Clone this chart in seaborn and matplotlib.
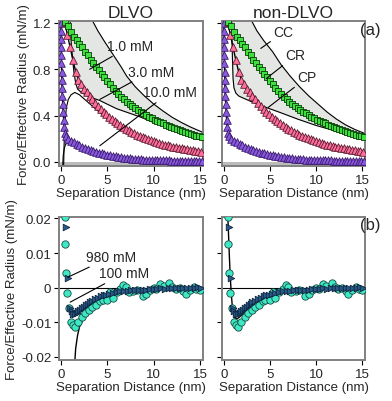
import numpy as np
import seaborn as sns
import matplotlib
matplotlib.use('Agg')
import matplotlib.pyplot as plt

# ---- top panels: force data (mN/m) ----
sep_1mM = [0.5, 0.8, 1.1, 1.4, 1.7, 2.0, 2.3, 2.6, 2.9, 3.2, 3.5, 3.8, 4.1, 4.4, 4.7, 5.0, 5.3,
           5.6, 5.9, 6.2, 6.5, 6.8, 7.1, 7.4, 7.7, 8.0, 8.3, 8.6, 8.9, 9.2, 9.5, 9.8, 10.1,
           10.4, 10.7, 11.0, 11.3, 11.6, 11.9, 12.2, 12.5, 12.8, 13.1, 13.4, 13.7, 14.0,
           14.3, 14.6, 14.9, 15.2]
force_1mM = [1.21, 1.17, 1.12, 1.08, 1.05, 1.02, 0.99, 0.95, 0.92, 0.88, 0.85, 0.82, 0.79,
             0.76, 0.73, 0.70, 0.67, 0.64, 0.61, 0.59, 0.56, 0.54, 0.52, 0.50, 0.48, 0.465,
             0.45, 0.435, 0.42, 0.405, 0.39, 0.378, 0.366, 0.355, 0.344, 0.333, 0.323,
             0.313, 0.303, 0.294, 0.285, 0.276, 0.267, 0.259, 0.251, 0.243, 0.236, 0.228,
             0.221, 0.214]

sep_3mM = [0.4, 0.7, 1.0, 1.3, 1.6, 1.9, 2.2, 2.5, 2.8, 3.1, 3.4, 3.7, 4.0, 4.3, 4.6, 4.9,
           5.2, 5.5, 5.8, 6.1, 6.4, 6.7, 7.0, 7.3, 7.6, 7.9, 8.2, 8.5, 8.8, 9.1, 9.4, 9.7,
           10.0, 10.3, 10.6, 10.9, 11.2, 11.5, 11.8, 12.1, 12.4, 12.7, 13.0, 13.3, 13.6,
           13.9, 14.2, 14.5, 14.8, 15.1]
force_3mM = [1.21, 1.10, 0.99, 0.88, 0.78, 0.71, 0.67, 0.63, 0.60, 0.57, 0.54, 0.51, 0.48,
             0.455, 0.43, 0.41, 0.39, 0.37, 0.35, 0.335, 0.318, 0.302, 0.287, 0.273, 0.26,
             0.248, 0.236, 0.225, 0.215, 0.205, 0.196, 0.187, 0.179, 0.171, 0.164, 0.157,
             0.150, 0.144, 0.138, 0.132, 0.127, 0.122, 0.117, 0.112, 0.108, 0.104, 0.100,
             0.096, 0.093, 0.090]

sep_10mM = [0.0, 0.02, 0.03, 0.04, 0.05, 0.06, 0.08, 0.1, 0.12, 0.15, 0.2, 0.25, 0.3, 0.35,
            0.45, 0.6, 0.8, 1.1, 1.4, 1.7, 2.0, 2.3, 2.6, 2.9, 3.2, 3.5, 3.8, 4.1, 4.4, 4.7,
            5.0, 5.3, 5.6, 5.9, 6.2, 6.5, 6.8, 7.1, 7.4, 7.7, 8.0, 8.3, 8.6, 8.9, 9.2, 9.5,
            9.8, 10.1, 10.4, 10.7, 11.0, 11.3, 11.6, 11.9, 12.2, 12.5, 12.8, 13.1, 13.4,
            13.7, 14.0, 14.3, 14.6, 14.9, 15.2]
force_10mM = [1.20, 1.13, 1.06, 0.99, 0.92, 0.85, 0.78, 0.71, 0.64, 0.57, 0.50, 0.43, 0.36,
              0.30, 0.25, 0.22, 0.20, 0.185, 0.17, 0.157, 0.145, 0.133, 0.123, 0.113, 0.104,
              0.096, 0.088, 0.081, 0.074, 0.068, 0.062, 0.057, 0.052, 0.048, 0.044, 0.040,
              0.037, 0.034, 0.031, 0.028, 0.026, 0.024, 0.022, 0.020, 0.018, 0.017, 0.016,
              0.015, 0.0145, 0.014, 0.0135, 0.013, 0.0125, 0.012, 0.0115, 0.011, 0.0105,
              0.010, 0.0098, 0.0095, 0.0092, 0.009, 0.0088, 0.0085, 0.0082]

# model curves, DLVO panel
dlvo_cc_x = [3.4, 4.0, 4.7, 5.6, 6.5, 7.1, 8.0, 9.0, 10.0, 11.0, 12.0, 13.0, 14.0, 15.3]
dlvo_cc_y = [1.22, 1.13, 1.04, 0.93, 0.82, 0.74, 0.65, 0.57, 0.50, 0.44, 0.385, 0.34, 0.30, 0.255]
dlvo_cp_x = [1.0, 1.1, 1.25, 1.4, 1.6, 1.8, 2.2, 3.0, 4.2, 6.0, 8.5, 10.0, 12.0, 13.0, 14.0, 15.3]
dlvo_cp_y = [1.22, 1.05, 0.90, 0.78, 0.68, 0.63, 0.60, 0.565, 0.53, 0.46, 0.39, 0.34, 0.29,
             0.27, 0.245, 0.21]
dlvo_cp3_x = [0.3, 0.35, 0.45, 0.6, 0.8, 1.1, 1.5, 2.0, 3.0, 4.0, 5.0, 7.0, 9.0, 11.0, 13.0, 15.3]
dlvo_cp3_y = [-0.04, 0.15, 0.35, 0.47, 0.54, 0.58, 0.60, 0.58, 0.51, 0.44, 0.37, 0.265, 0.19,
              0.135, 0.095, 0.065]
dlvo_cp10_x = [0.2, 0.25, 0.35, 0.5, 0.7, 1.0, 1.5, 2.0, 3.0, 4.0, 5.0, 6.5, 8.0, 10.0, 12.0, 15.3]
dlvo_cp10_y = [-0.04, 0.05, 0.11, 0.15, 0.165, 0.17, 0.16, 0.145, 0.115, 0.088, 0.066, 0.043,
               0.028, 0.016, 0.010, 0.005]

# model curves, non-DLVO panel
ndlvo_cc_x = [3.0, 3.6, 4.3, 5.3, 6.2, 7.2, 8.2, 9.2, 10.2, 11.2, 12.2, 13.2, 14.2, 15.3]
ndlvo_cc_y = [1.22, 1.13, 1.05, 0.95, 0.84, 0.74, 0.65, 0.57, 0.50, 0.43, 0.37, 0.32, 0.28, 0.245]
ndlvo_cp_x = [0.85, 0.9, 0.95, 1.0, 1.1, 1.3, 1.6, 2.0, 3.0, 4.6, 6.0, 8.0, 10.0, 12.0, 13.5, 15.3]
ndlvo_cp_y = [1.22, 1.00, 0.85, 0.72, 0.64, 0.595, 0.57, 0.555, 0.52, 0.47, 0.43, 0.37, 0.315,
              0.27, 0.24, 0.21]

# ---- bottom panels: high salt data ----
sep_100mM = [0.5, 0.5, 0.6, 0.7, 0.85, 1.1, 1.3, 1.5, 1.9, 2.3, 2.6, 3.0, 3.4, 3.8, 4.2, 4.5,
             5.0, 5.3, 5.6, 6.0, 6.4, 6.7, 7.0, 7.3, 7.8, 8.2, 8.8, 9.2, 9.6, 10.0, 10.3,
             10.7, 11.1, 11.7, 12.0, 12.4, 12.8, 13.2, 13.5, 13.9, 14.3, 14.6, 15.0]
force_100mM = [0.0205, 0.0127, 0.0041, -0.0016, -0.0058, -0.0098, -0.0108, -0.0115, -0.0098,
               -0.0086, -0.0072, -0.0066, -0.0055, -0.0050, -0.0040, -0.0036, -0.0035,
               -0.0014, -0.0030, -0.0012, -0.0004, 0.0008, 0.0002, -0.0013, -0.0010,
               -0.0006, -0.0024, -0.0017, -0.0008, 0.0000, -0.0004, 0.0010, 0.0006, 0.0012,
               0.0002, -0.0005, -0.0002, -0.0009, -0.0017, -0.0006, 0.0003, -0.0005, -0.0008]
sep_980mM = [0.6, 0.75, 1.0, 1.15, 1.3, 1.5, 1.7, 1.9, 2.1, 2.3, 2.5, 2.7, 2.9, 3.1, 3.4,
             3.7, 4.0, 4.3, 4.6, 4.9, 5.2, 5.6, 6.0, 6.4, 6.8, 7.2, 7.6, 8.0, 8.4, 8.8, 9.2,
             9.6, 10.0, 10.4, 10.8, 11.2, 11.6, 12.0, 12.4, 12.8, 13.2, 13.6, 14.0, 14.4,
             14.8, 15.1]
force_980mM = [0.0175, 0.0028, -0.0058, -0.0068, -0.0075, -0.0077, -0.0072, -0.0068, -0.0064,
               -0.0060, -0.0055, -0.0050, -0.0046, -0.0042, -0.0038, -0.0033, -0.0029,
               -0.0025, -0.0022, -0.0020, -0.0017, -0.0015, -0.0013, -0.0011, -0.0010,
               -0.0009, -0.0008, -0.0008, -0.0007, -0.0006, -0.0006, -0.0005, -0.0004,
               -0.0003, -0.0002, -0.0003, -0.0001, -0.0002, 0.0, -0.0001, 0.0, -0.0001,
               0.0, 0.0, 0.0001, 0.0]
dlvo_hi_x = [1.5, 1.6, 1.8, 2.0, 2.4, 2.8, 3.4, 4.2, 5.0, 5.8, 7.4, 9.0, 11.0, 13.0, 15.3]
dlvo_hi_y = [-0.0215, -0.0175, -0.0138, -0.0114, -0.0092, -0.0076, -0.0058, -0.0038, -0.0026,
             -0.0018, -0.0010, -0.0006, -0.0004, -0.0002, -0.0001]
ndlvo_hi_x = [0.42, 0.5, 0.6, 0.7, 0.8, 0.9, 1.0, 1.2, 1.45, 1.7, 2.0, 2.4, 2.9, 3.4, 4.0, 4.8,
              5.8, 6.9, 8.5, 10.0, 12.0, 15.3]
ndlvo_hi_y = [0.0215, 0.016, 0.009, 0.003, -0.0015, -0.0048, -0.0068, -0.0088, -0.0090,
              -0.0085, -0.0077, -0.0067, -0.0052, -0.0040, -0.0029, -0.0020, -0.0014,
              -0.0010, -0.0006, -0.0004, -0.0002, -0.0001]

xticks = [0, 5, 10, 15]
top_yticks = [0.0, 0.4, 0.8, 1.2]
top_ylabels = ['0.0', '0.4', '0.8', '1.2']
bot_yticks = [0.02, 0.01, 0.0, -0.01, -0.02]
bot_ylabels = ['0.02', '0.01', '0', '-0.01', '-0.02']

sns.set_style('ticks')
plt.rcParams['font.family'] = ['Liberation Sans', 'DejaVu Sans']
plt.rcParams['font.size'] = 9
plt.rcParams['xtick.labelsize'] = 9.5
plt.rcParams['ytick.labelsize'] = 9.5

GREEN, PINK, PURPLE, AQUA, NAVY = '#3ee03e', '#ff6f9c', '#8a5ae0', '#3de8c4', '#2a5a86'
FRAME = '#808080'
FILL = '#e4e6e4'

fig = plt.figure(figsize=(3.92, 4.02), dpi=100)
ax_a1 = fig.add_axes([0.1505, 0.5846, 0.367, 0.3607])
ax_a2 = fig.add_axes([0.5663, 0.5846, 0.3648, 0.3607])
ax_b1 = fig.add_axes([0.1505, 0.102, 0.367, 0.3557])
ax_b2 = fig.add_axes([0.5663, 0.102, 0.3648, 0.3557])


def line(ax, x, y, lw=0.8):
    sns.lineplot(x=x, y=y, ax=ax, color='black', lw=lw, sort=False, estimator=None)


def frame(ax):
    for s in ax.spines.values():
        s.set_color(FRAME)
        s.set_linewidth(1.4)
    ax.tick_params(direction='out', length=3.5, width=0.8, color='black', pad=2)
    ax.set_xlim(-0.2, 15.3)
    ax.set_xticks(xticks)
    ax.set_xlabel('Separation Distance (nm)', labelpad=1, fontsize=9.5)


def top_panel(ax, cc_x, cc_y, cp_x, cp_y):
    poly_x = np.concatenate([cc_x, cp_x[::-1]])
    poly_y = np.concatenate([cc_y, cp_y[::-1]])
    ax.fill(poly_x, poly_y, color=FILL, zorder=0)
    ax.axhspan(-0.035, 0, color='#bbbbbb', zorder=0, lw=0)
    line(ax, cc_x, cc_y)
    line(ax, cp_x, cp_y)
    line(ax, sep_1mM, force_1mM, 1.0)
    line(ax, sep_3mM, force_3mM, 1.0)
    line(ax, sep_10mM, force_10mM, 1.0)
    sns.scatterplot(x=sep_10mM, y=force_10mM, ax=ax, marker='^', s=30, color=PURPLE,
                    edgecolor='#3a1a6a', linewidth=0.6, zorder=3)
    sns.scatterplot(x=sep_3mM, y=force_3mM, ax=ax, marker='^', s=30, color=PINK,
                    edgecolor='#5a1a30', linewidth=0.6, zorder=4)
    sns.scatterplot(x=sep_1mM, y=force_1mM, ax=ax, marker='s', s=20, color=GREEN,
                    edgecolor='#0a3a0a', linewidth=0.6, zorder=5)
    frame(ax)
    ax.set_ylim(-0.035, 1.217)
    ax.set_yticks(top_yticks)


def bottom_panel(ax, fx, fy):
    ax.axhline(0, color='black', lw=0.8, zorder=1)
    sns.scatterplot(x=sep_100mM, y=force_100mM, ax=ax, marker='o', s=28, color=AQUA,
                    edgecolor='#1a4a44', linewidth=0.6, zorder=3)
    sns.scatterplot(x=sep_980mM, y=force_980mM, ax=ax, marker='>', s=22, color=NAVY,
                    edgecolor='#0c2440', linewidth=0.6, zorder=4)
    line(ax, fx, fy, 1.0)
    frame(ax)
    ax.set_ylim(-0.0209, 0.0204)
    ax.set_yticks(bot_yticks)


top_panel(ax_a1, dlvo_cc_x, dlvo_cc_y, dlvo_cp_x, dlvo_cp_y)
line(ax_a1, dlvo_cp3_x, dlvo_cp3_y)
line(ax_a1, dlvo_cp10_x, dlvo_cp10_y)
top_panel(ax_a2, ndlvo_cc_x, ndlvo_cc_y, ndlvo_cp_x, ndlvo_cp_y)
bottom_panel(ax_b1, dlvo_hi_x, dlvo_hi_y)
bottom_panel(ax_b2, ndlvo_hi_x, ndlvo_hi_y)

ax_a1.set_yticklabels(top_ylabels)
ax_a2.set_yticklabels([])
ax_b1.set_yticklabels(bot_ylabels)
ax_b2.set_yticklabels([])
for ax in (ax_a1, ax_b1):
    ax.set_ylabel('Force/Effective Radius (mN/m)', labelpad=2, fontsize=9.5)
ax_a2.set_ylabel('')
ax_b2.set_ylabel('')

ax_a1.set_title('DLVO', fontsize=12.5, pad=3)
ax_a2.set_title('non-DLVO', fontsize=12.5, pad=3)

arrow = dict(arrowstyle='-', color='black', lw=0.8, shrinkA=0, shrinkB=0)
ann = dict(va='center', arrowprops=arrow, zorder=6, fontsize=10)
ax_a1.annotate('1.0 mM', xy=(3.1, 0.80), xytext=(5.0, 1.0), **ann)
ax_a1.annotate('3.0 mM', xy=(4.2, 0.54), xytext=(7.2, 0.78), **ann)
ax_a1.annotate('10.0 mM', xy=(4.2, 0.14), xytext=(8.8, 0.60), **ann)
ax_a2.annotate('CC', xy=(4.0, 0.98), xytext=(5.4, 1.12), **ann)
ax_a2.annotate('CR', xy=(4.6, 0.72), xytext=(6.7, 0.92), **ann)
ax_a2.annotate('CP', xy=(4.8, 0.47), xytext=(8.0, 0.73), **ann)
ax_b1.annotate('980 mM', xy=(0.75, 0.003), xytext=(2.7, 0.0089), **ann)
ax_b1.annotate('100 mM', xy=(1.0, -0.0042), xytext=(4.1, 0.0041), **ann)

fig.text(0.945, 0.925, '(a)', fontsize=12, ha='center', va='center')
fig.text(0.945, 0.44, '(b)', fontsize=12, ha='center', va='center')

fig.savefig('out.png', dpi=100)
